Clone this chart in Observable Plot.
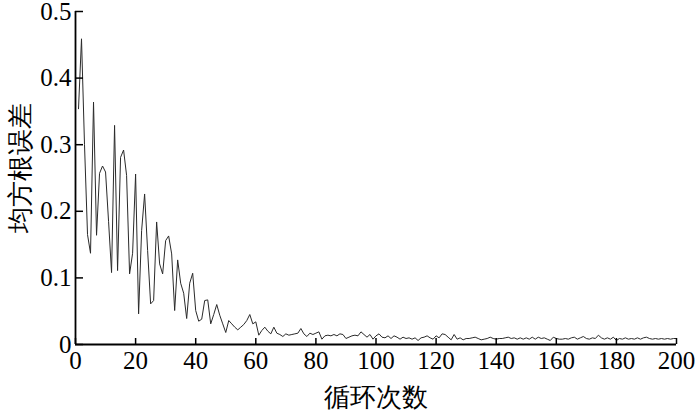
<!DOCTYPE html>
<html><head><meta charset="utf-8">
<script src="https://cdn.jsdelivr.net/npm/d3@7"></script>
<script src="https://cdn.jsdelivr.net/npm/@observablehq/plot@0.6"></script>
<style>body{margin:0;background:#fff} svg text{font-family:"Liberation Serif","Times New Roman",serif}</style>
</head><body><div id="chart"></div>
<script>
const cycles = d3.range(1, 201);
const rmse = [
0.354,0.459,0.300,0.165,0.137,0.364,0.164,0.257,0.268,0.259,
0.185,0.108,0.329,0.111,0.281,0.292,0.254,0.106,0.137,0.256,
0.046,0.171,0.226,0.141,0.061,0.066,0.184,0.121,0.106,0.156,
0.163,0.136,0.051,0.127,0.092,0.077,0.039,0.092,0.107,0.051,
0.035,0.038,0.066,0.067,0.031,0.045,0.060,0.044,0.031,0.018,
0.036,0.031,0.026,0.022,0.026,0.030,0.036,0.045,0.031,0.034,
0.014,0.021,0.026,0.020,0.016,0.026,0.017,0.015,0.012,0.016,
0.014,0.015,0.016,0.017,0.024,0.016,0.012,0.017,0.015,0.017,
0.019,0.008,0.013,0.014,0.013,0.015,0.013,0.016,0.015,0.009,
0.011,0.013,0.014,0.013,0.019,0.015,0.011,0.015,0.008,0.013,
0.016,0.011,0.010,0.013,0.009,0.013,0.011,0.008,0.011,0.009,
0.010,0.008,0.010,0.006,0.010,0.011,0.013,0.010,0.008,0.013,
0.010,0.016,0.015,0.011,0.007,0.015,0.008,0.010,0.007,0.009,
0.009,0.010,0.011,0.009,0.007,0.008,0.009,0.011,0.009,0.008,
0.009,0.009,0.010,0.011,0.009,0.010,0.008,0.010,0.008,0.010,
0.008,0.011,0.008,0.011,0.009,0.010,0.008,0.006,0.011,0.009,
0.008,0.008,0.009,0.008,0.010,0.011,0.008,0.010,0.012,0.009,
0.008,0.010,0.009,0.014,0.010,0.008,0.010,0.008,0.011,0.006,
0.009,0.008,0.010,0.008,0.009,0.008,0.010,0.008,0.010,0.011,
0.009,0.008,0.009,0.008,0.009,0.008,0.009,0.008,0.009,0.009
];
const xTicks = [0,20,40,60,80,100,120,140,160,180,200];
const yTicks = [0,0.1,0.2,0.3,0.4,0.5];
const yTickLabels = ["0","0.1","0.2","0.3","0.4","0.5"];
const xTitle = "循环次数";
const yTitle = "均方根误差";

const data = cycles.map((c, i) => ({cycle: c, rmse: rmse[i]}));
const serif = "Liberation Serif";
const cjk = "Noto Sans CJK SC";

const chart = Plot.plot({
  width: 700, height: 412,
  marginLeft: 75, marginRight: 24, marginTop: 11, marginBottom: 68,
  style: {fontFamily: "Liberation Serif, serif", fontSize: "25px", color: "#000", background: "#fff", overflow: "visible"},
  x: {domain: [0, 200]},
  y: {domain: [0, 0.5]},
  marks: [
    Plot.line(data, {x: "cycle", y: "rmse", stroke: "#2a2a2a", strokeWidth: 1}),
    Plot.axisX({ticks: xTicks, tickSize: -6, tickPadding: 13, tickFormat: d => String(d), label: null, fontSize: 25, fontFamily: serif, stroke: "#000", strokeWidth: 1.5}),
    Plot.axisY({ticks: yTicks, tickSize: -8, tickPadding: 12, tickFormat: d => yTickLabels[yTicks.indexOf(d)], label: null, fontSize: 25, fontFamily: serif, stroke: "#000", strokeWidth: 1.5}),
    Plot.ruleX([0], {stroke: "#000", strokeWidth: 1.8}),
    Plot.ruleY([0], {stroke: "#000", strokeWidth: 1.8}),
    Plot.text([xTitle], {text: d => d, frameAnchor: "bottom", dy: 53, lineAnchor: "middle", fontSize: 26, fontFamily: cjk, fill: "#000"}),
    Plot.text([yTitle], {text: d => d, frameAnchor: "left", dx: -55, dy: -10, rotate: -90, textAnchor: "middle", lineAnchor: "middle", fontSize: 26, fontFamily: cjk, fill: "#000"})
  ]
});
document.getElementById("chart").appendChild(chart);
</script>
</body></html>
